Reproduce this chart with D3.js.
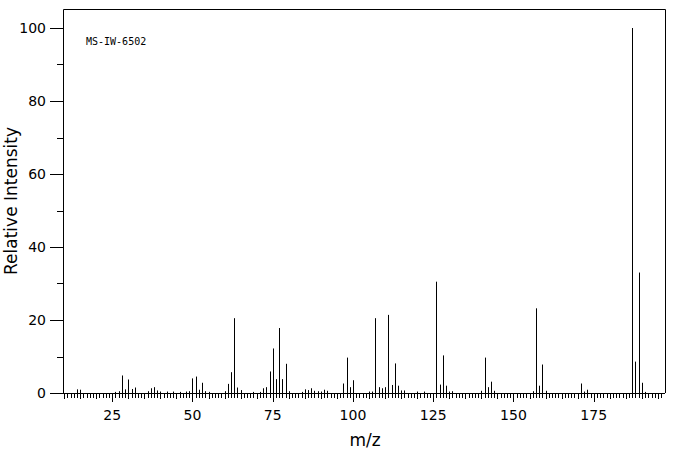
<!DOCTYPE html>
<html><head><meta charset="utf-8">
<script src="https://cdn.jsdelivr.net/npm/d3@7"></script>
<style>body{margin:0;background:#fff}text{font-family:"DejaVu Sans",sans-serif}</style>
</head><body>
<svg width="676" height="455"></svg>
<script>
var mz = [14,15,26,27,28,29,30,31,32,36,37,38,39,40,42,44,46,48,49,50,51,52,53,54,55,60,61,62,63,64,65,69,71,72,73,74,75,76,77,78,79,80,84,85,86,87,88,89,90,91,92,97,98,99,100,105,106,107,108,109,110,111,112,113,114,115,116,120,122,126,127,128,129,130,131,140,141,142,143,144,156,157,158,159,160,171,172,173,187,188,189,190,191];
var intensity = [1,0.9,0.3,0.5,4.8,1,3.7,1.1,1.5,0.5,1.3,1.6,0.7,0.4,0.4,0.4,0.3,0.4,0.5,4,4.5,0.9,2.8,0.5,0.3,0.5,2.5,5.7,20.5,1.5,0.8,0.3,0.3,1.3,1.6,5.9,12.2,3.8,17.8,3.8,8,0.5,0.3,1,0.8,1.3,0.6,0.5,0.4,0.9,0.6,2.6,9.7,1.6,3.5,0.4,0.4,20.5,1.6,1.3,1.6,21.4,2.2,8.1,2,0.7,0.7,0.4,0.4,30.5,2.3,10.3,2,0.4,0.5,0.6,9.7,1.6,3.1,0.6,0.5,23.2,2,7.8,0.6,2.6,0.4,0.9,100,8.6,33,2.8,0.3];
var xTicks = [25,50,75,100,125,150,175];
var yTicks = [0,20,40,60,80,100];
var title = "MS-IW-6502";

var svg = d3.select("svg"),
	pLeft = 63, pRight = 665, pTop = 9, pBottom = 393;

var x = d3.scaleLinear().domain([9.66, 197.2]).range([pLeft, pRight]);
var y = d3.scaleLinear().domain([0, 100]).range([pBottom, 28]);

// frame
svg.append("path")
	.attr("d", "M" + (pLeft + 0.5) + "," + pBottom + "V" + (pTop + 0.5) + "H" + (pRight + 0.5) + "V" + pBottom)
	.attr("fill", "none").attr("stroke", "#000");

// baseline
svg.append("line").attr("x1", pLeft - 6).attr("x2", pRight).attr("y1", pBottom + 0.5).attr("y2", pBottom + 0.5)
	.attr("stroke", "#000");

// x ticks every unit
svg.append("g").selectAll("line").data(d3.range(10, 197))
	.join("line")
	.attr("x1", d => Math.round(x(d)) + 0.5).attr("x2", d => Math.round(x(d)) + 0.5)
	.attr("y1", pBottom).attr("y2", d => pBottom + (d % 25 == 0 ? 9 : d % 5 == 0 ? 6 : 5))
	.attr("stroke", "#000");

svg.append("g").selectAll("text").data(xTicks).join("text")
	.attr("x", d => x(d)).attr("y", 420).attr("text-anchor", "middle")
	.attr("font-size", 14).text(d => d);

// y ticks
svg.append("g").selectAll("line").data(d3.range(0, 101, 10)).join("line")
	.attr("x1", d => d % 20 == 0 ? pLeft - 13 : pLeft - 6).attr("x2", pLeft)
	.attr("y1", d => Math.round(y(d)) + 0.5).attr("y2", d => Math.round(y(d)) + 0.5)
	.attr("stroke", "#000");
svg.append("g").selectAll("text").data(yTicks).join("text")
	.attr("x", pLeft - 17).attr("y", d => y(d) + 5).attr("text-anchor", "end")
	.attr("font-size", 14).text(d => d);

// peaks
svg.append("g").selectAll("line").data(mz).join("line")
	.attr("x1", d => Math.round(x(d)) + 0.5).attr("x2", d => Math.round(x(d)) + 0.5)
	.attr("y1", pBottom).attr("y2", (d, i) => y(intensity[i]))
	.attr("stroke", "#000");

svg.append("text").attr("x", 86).attr("y", 45).attr("font-size", 10)
	.style("font-family", "DejaVu Sans Mono").text(title);

svg.append("text").attr("x", 365).attr("y", 446).attr("text-anchor", "middle")
	.attr("font-size", 17).text("m/z");
svg.append("text").attr("transform", "translate(17,201) rotate(-90)")
	.attr("text-anchor", "middle").attr("font-size", 17).text("Relative Intensity");
</script>
</body></html>
